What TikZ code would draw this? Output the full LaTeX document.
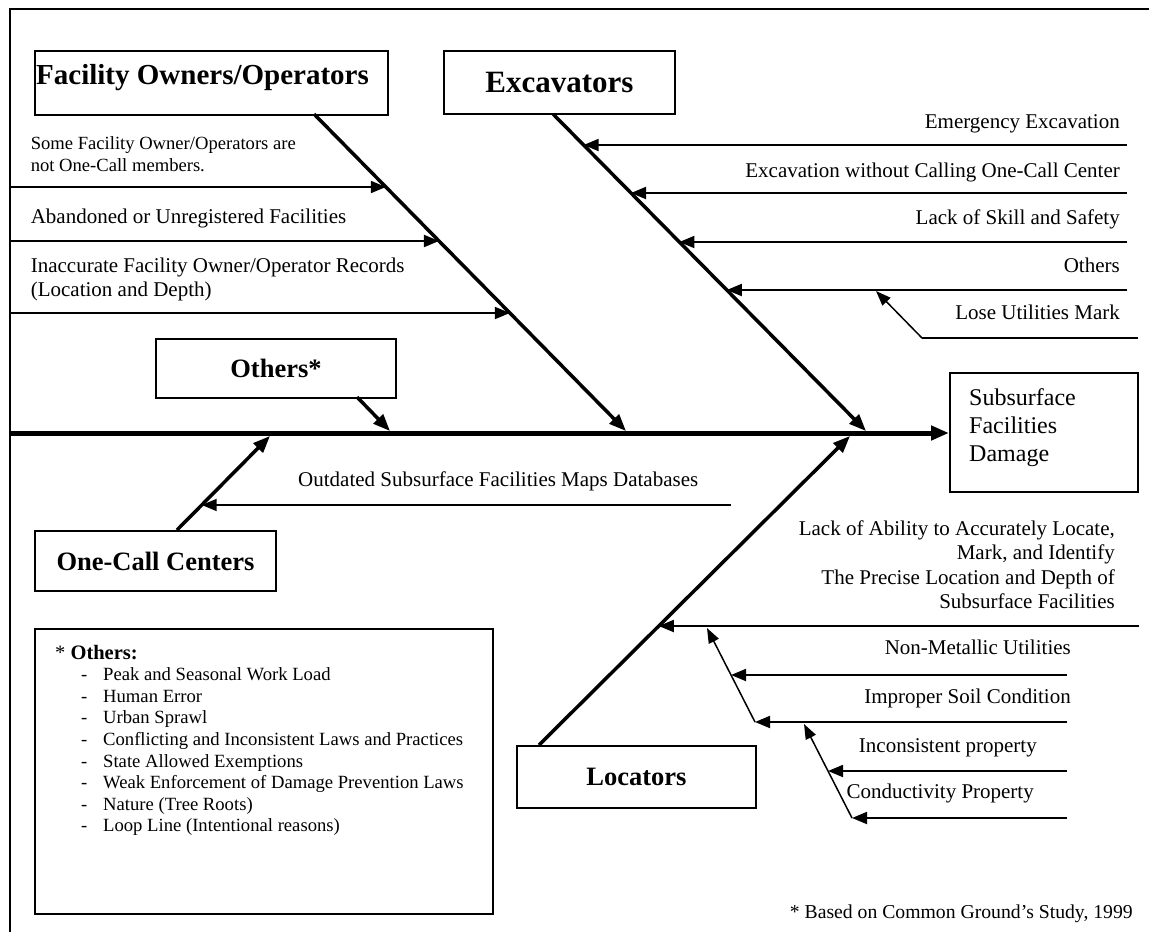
\documentclass[tikz,border=0pt]{standalone}
\usepackage{fontspec}
\setmainfont{Liberation Serif}
\usetikzlibrary{arrows.meta,calc}
\begin{document}
\begin{tikzpicture}[x=1pt,y=-1pt,
  box/.style={draw,line width=2pt,inner sep=0pt,anchor=north west},
  head/.style={font=\bfseries\fontsize{26.5}{30}\selectfont},
  lbl/.style={inner sep=0pt,font=\fontsize{21}{24.7}\selectfont,text height=13.9pt,text depth=0pt},
  lblm/.style={inner sep=0pt,font=\fontsize{21}{24.3}\selectfont},
  sml/.style={inner sep=0pt,font=\fontsize{18.6}{22}\selectfont},
  thinarr/.style={line width=1.8pt,-{Triangle[length=15pt,width=12pt]}},
  subarr/.style={line width=1.5pt,-{Triangle[length=15pt,width=11pt]}},
  plainln/.style={line width=1.8pt},
  bonearr/.style={line width=3.5pt,-{Triangle[length=17pt,width=13pt]}},
]
\useasboundingbox (0,0) rectangle (1149,932);

% outer frame
\coordinate (fBL) at (10,932);
\coordinate (fTL) at (10,9);
\coordinate (fTR) at (1149,9);
\draw[line width=1.8pt] (fBL) -- (fTL) -- (fTR);

% boxes
\node[box,minimum width=353pt,minimum height=64pt] (fo) at (34,50) {};
\node[inner sep=0pt,anchor=west,font=\bfseries\fontsize{29}{32}\selectfont,text height=19.1pt,text depth=0pt] (fotxt) at (36,75) {Facility Owners/Operators};
\node[box,head,font=\bfseries\fontsize{31}{34}\selectfont,minimum width=231pt,minimum height=63pt] (exc) at (443,50) {Excavators};
\node[box,head,minimum width=240pt,minimum height=59pt] (oth) at (155,338) {Others*};
\node[box,head,minimum width=241pt,minimum height=60pt] (occ) at (34,530) {One-Call Centers};
\node[box,head,minimum width=239pt,minimum height=62pt] (loc) at (516,745) {Locators};
\node[box,minimum width=188pt,minimum height=119pt] (dmg) at (949,372) {};
\node[inner sep=0pt,anchor=north west,align=left,font=\fontsize{24}{28}\selectfont] (dmgtxt) at (969,388.6) {Subsurface\\Facilities\\Damage};
\node[box,minimum width=458pt,minimum height=285pt] (note) at (34,628) {};

% spine
\coordinate (sL) at (10,433);
\draw[line width=5pt,-{Triangle[length=18pt,width=14pt]}] (sL) -- (dmg.west |- sL);

% facility bone
\coordinate (fbS) at (314,114);
\coordinate (fbE) at (626,431);
\draw[bonearr] (fbS) -- (fbE);
\coordinate (fb1) at ($(fbS)!0.2303!(fbE)$);
\coordinate (fb2) at ($(fbS)!0.4006!(fbE)$);
\coordinate (fb3) at ($(fbS)!0.6278!(fbE)$);
\draw[thinarr] (fb1 -| fTL) -- (fb1);
\draw[thinarr] (fb2 -| fTL) -- (fb2);
\draw[thinarr] (fb3 -| fTL) -- (fb3);
\node[sml,anchor=north west,align=left] (tsome) at (30.6,136.5) {Some Facility Owner/Operators are\\not One-Call members.};
\node[lbl,anchor=west] (taband) at (30.6,217) {Abandoned or Unregistered Facilities};
\node[lblm,anchor=north west,align=left] (tinacc) at (30.6,257.6) {Inaccurate Facility Owner/Operator Records\\(Location and Depth)};

% excavators bone
\coordinate (ebS) at (553,114);
\coordinate (ebE) at (866,431);
\draw[bonearr] (ebS) -- (ebE);
\coordinate (eR) at (1127,0);
\coordinate (eb1) at ($(ebS)!0.0978!(ebE)$);
\coordinate (eb2) at ($(ebS)!0.2492!(ebE)$);
\coordinate (eb3) at ($(ebS)!0.4038!(ebE)$);
\coordinate (eb4) at ($(ebS)!0.5552!(ebE)$);
\draw[thinarr] (eb1 -| eR) -- (eb1);
\draw[thinarr] (eb2 -| eR) -- (eb2);
\draw[thinarr] (eb3 -| eR) -- (eb3);
\draw[thinarr] (eb4 -| eR) -- (eb4);
\coordinate (luE) at (1138,338);
\coordinate (luS) at (922,338);
\coordinate (luT) at (876,291);
\draw[plainln] (luE) -- (luS);
\draw[subarr] (luS) -- (luT);
\node[lbl,anchor=east] (temerg) at (1120,122) {Emergency Excavation};
\node[lbl,anchor=east] (texcw) at (1120,171) {Excavation without Calling One-Call Center};
\node[lbl,anchor=east] (tlack) at (1120,218) {Lack of Skill and Safety};
\node[lbl,anchor=east] (tothers) at (1120,266) {Others};
\node[lbl,anchor=east] (tlose) at (1120,313) {Lose Utilities Mark};

% others arrow
\coordinate (obS) at (357,397);
\coordinate (obE) at (390,431);
\draw[bonearr] (obS) -- (obE);

% one-call bone
\coordinate (ocS) at (177,530);
\coordinate (ocE) at (270,436);
\draw[bonearr] (ocS) -- (ocE);
\coordinate (od) at ($(ocS)!0.266!(ocE)$);
\coordinate (odR) at (731,0);
\draw[thinarr] (od -| odR) -- (od);
\node[lbl,anchor=west] (toutd) at (298,480) {Outdated Subsurface Facilities Maps Databases};

% locators bone
\coordinate (lbS) at (539,745);
\coordinate (lbE) at (850,436);
\draw[bonearr] (lbS) -- (lbE);
\coordinate (lb1) at ($(lbS)!0.3851!(lbE)$);
\coordinate (lR) at (1139,0);
\draw[thinarr] (lb1 -| lR) -- (lb1);
\node[lblm,anchor=north east,align=right] (tabil) at (1115,520.6) {Lack of Ability to Accurately Locate,\\Mark, and Identify\\The Precise Location and Depth of\\Subsurface Facilities};
\coordinate (sR) at (1067,0);
\coordinate (sb1S) at (755,722);
\coordinate (sb1E) at (707,628);
\draw[subarr] (sb1S) -- (sb1E);
\coordinate (nm) at ($(sb1S)!0.5!(sb1E)$);
\draw[thinarr] (nm -| sR) -- (nm);
\draw[thinarr] (sb1S -| sR) -- (sb1S);
\coordinate (sb2S) at (852,818);
\coordinate (sb2E) at (804,724);
\draw[subarr] (sb2S) -- (sb2E);
\coordinate (ip) at ($(sb2S)!0.5!(sb2E)$);
\draw[thinarr] (ip -| sR) -- (ip);
\draw[thinarr] (sb2S -| sR) -- (sb2S);
\node[lbl,anchor=east] (tnm) at (1071,648) {Non-Metallic Utilities};
\node[lbl,anchor=east] (tis) at (1071,697) {Improper Soil Condition};
\node[lbl,anchor=east] (tip) at (1037,746) {Inconsistent property};
\node[lbl,anchor=east] (tcp) at (1034,792) {Conductivity Property};

% note box content
\node[inner sep=0pt,anchor=west,font=\fontsize{20.5}{24}\selectfont,text height=13.5pt,text depth=0pt] (nhead) at (55,653) {* \textbf{Others:}};
\node[inner sep=0pt,anchor=north west,align=left,font=\fontsize{18.65}{21.6}\selectfont] (nlist) at (81,667.5) {%
\makebox[22pt][l]{-}Peak and Seasonal Work Load\\
\makebox[22pt][l]{-}Human Error\\
\makebox[22pt][l]{-}Urban Sprawl\\
\makebox[22pt][l]{-}Conflicting and Inconsistent Laws and Practices\\
\makebox[22pt][l]{-}State Allowed Exemptions\\
\makebox[22pt][l]{-}Weak Enforcement of Damage Prevention Laws\\
\makebox[22pt][l]{-}Nature (Tree Roots)\\
\makebox[22pt][l]{-}Loop Line (Intentional reasons)};

% footnote
\node[inner sep=0pt,anchor=east,font=\fontsize{19.7}{23}\selectfont,text height=13pt,text depth=0pt] (tfoot) at (1133,912) {* Based on Common Ground’s Study, 1999};
\end{tikzpicture}
\end{document}
